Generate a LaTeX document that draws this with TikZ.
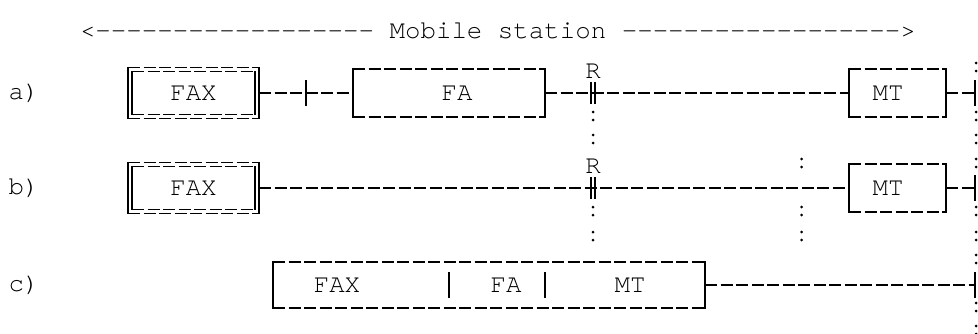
\documentclass[tikz,border=0pt]{standalone}
\usepackage{fontspec}
\newfontfamily\asc{texgyrecursor-regular}[Extension=.otf]
\begin{document}
\begin{tikzpicture}[x=1pt,y=-1pt,
    every node/.style={font=\fontsize{25.8}{30}\selectfont\asc,inner sep=0pt,outer sep=0pt},
    unit/.style={minimum width=#1,minimum height=48pt},
    rule/.style={line width=1.6pt,dash pattern=on 12pt off 3.5pt},
    thinrule/.style={line width=1.3pt,dash pattern=on 12pt off 3.5pt},
    side/.style={line width=1.6pt,line cap=rect},
    thinside/.style={line width=1.3pt,line cap=rect},
    pip/.style={line width=1.6pt}]
\useasboundingbox (0,0) rectangle (978,333);
\node[anchor=base west] (hdr) at (80,38) {<------------------ Mobile station ------------------>};
\foreach \t/\y in {a/93, b/188, c/285}
    \node (lbl\t) at (24,\y) {\t)};
% row a
\node[unit=131pt,minimum height=51pt] (faxA) at (193.5,93) {FAX};
\node[unit=192pt,label={[xshift=8pt]center:FA}] (faA) at (449,93) {};
\node[unit=97pt,label={[xshift=-9.5pt]center:MT}] (mtA) at (897.5,93) {};
\node (rA) at (593,71) {R};
\coordinate (xA) at (rA |- faA.east);
\coordinate (endA) at (975,93);
% row b
\node[unit=131pt,minimum height=51pt] (faxB) at (193.5,188) {FAX};
\node[unit=97pt,label={[xshift=-9.5pt]center:MT}] (mtB) at (897.5,188) {};
\node (rB) at (593,166) {R};
\coordinate (xB) at (rB |- mtB.west);
\coordinate (endB) at (975,188);
% row c
\node[unit=432pt,minimum height=46pt] (allC) at (489,285) {};
\node (faxC) at (337,285) {FAX};
\node (faC) at (506,285) {FA};
\node (mtC) at (630,285) {MT};
\coordinate (endC) at (975,285);

% box edges
\foreach \n in {faA,mtA,mtB,allC} {
    \draw[rule] (\n.north west) -- (\n.north east) (\n.south west) -- (\n.south east);
    \draw[side] (\n.north west) -- (\n.south west) (\n.north east) -- (\n.south east);
}
\foreach \n in {faxA,faxB}
  \foreach \d in {0,4} {
    \draw[thinrule] ([shift={(\d,\d)}]\n.north west) -- ([shift={(-\d,\d)}]\n.north east)
        ([shift={(\d,-\d)}]\n.south west) -- ([shift={(-\d,-\d)}]\n.south east);
    \draw[thinside] ([shift={(\d,\d)}]\n.north west) -- ([shift={(\d,-\d)}]\n.south west)
        ([shift={(-\d,\d)}]\n.north east) -- ([shift={(-\d,-\d)}]\n.south east);
  }
\foreach \x in {449,545}
    \draw[pip] (\x,272) -- (\x,298);

% links
\draw[rule] (faxA.east) -- coordinate[pos=.5] (tkA) (faA.west);
\draw[rule] (faA.east) -- (mtA.west);
\draw[rule] (mtA.east) -- (endA);
\draw[rule] (faxB.east) -- (mtB.west);
\draw[rule] (mtB.east) -- (endB);
\draw[rule] (allC.east) -- (endC);
\foreach \p in {tkA,endA,endB,endC}
    \draw[pip] ([yshift=13pt]\p) -- ([yshift=-13pt]\p);
\foreach \p in {xA,xB}
    \foreach \s in {-2,2}
        \draw[pip] ([xshift=\s pt,yshift=11pt]\p) -- ([xshift=\s pt,yshift=-11pt]\p);

% colons
\foreach \y in {116,139,211,236}
    \fill (593,\y-4) circle (1.5pt) (593,\y+4) circle (1.5pt);
\foreach \y in {163,211,236}
    \fill (801.5,\y-4) circle (1.5pt) (801.5,\y+4) circle (1.5pt);
\foreach \y in {67,116,139,163,211,236,259,307,330}
    \fill (976,\y-4) circle (1.5pt) (976,\y+4) circle (1.5pt);
\end{tikzpicture}
\end{document}
